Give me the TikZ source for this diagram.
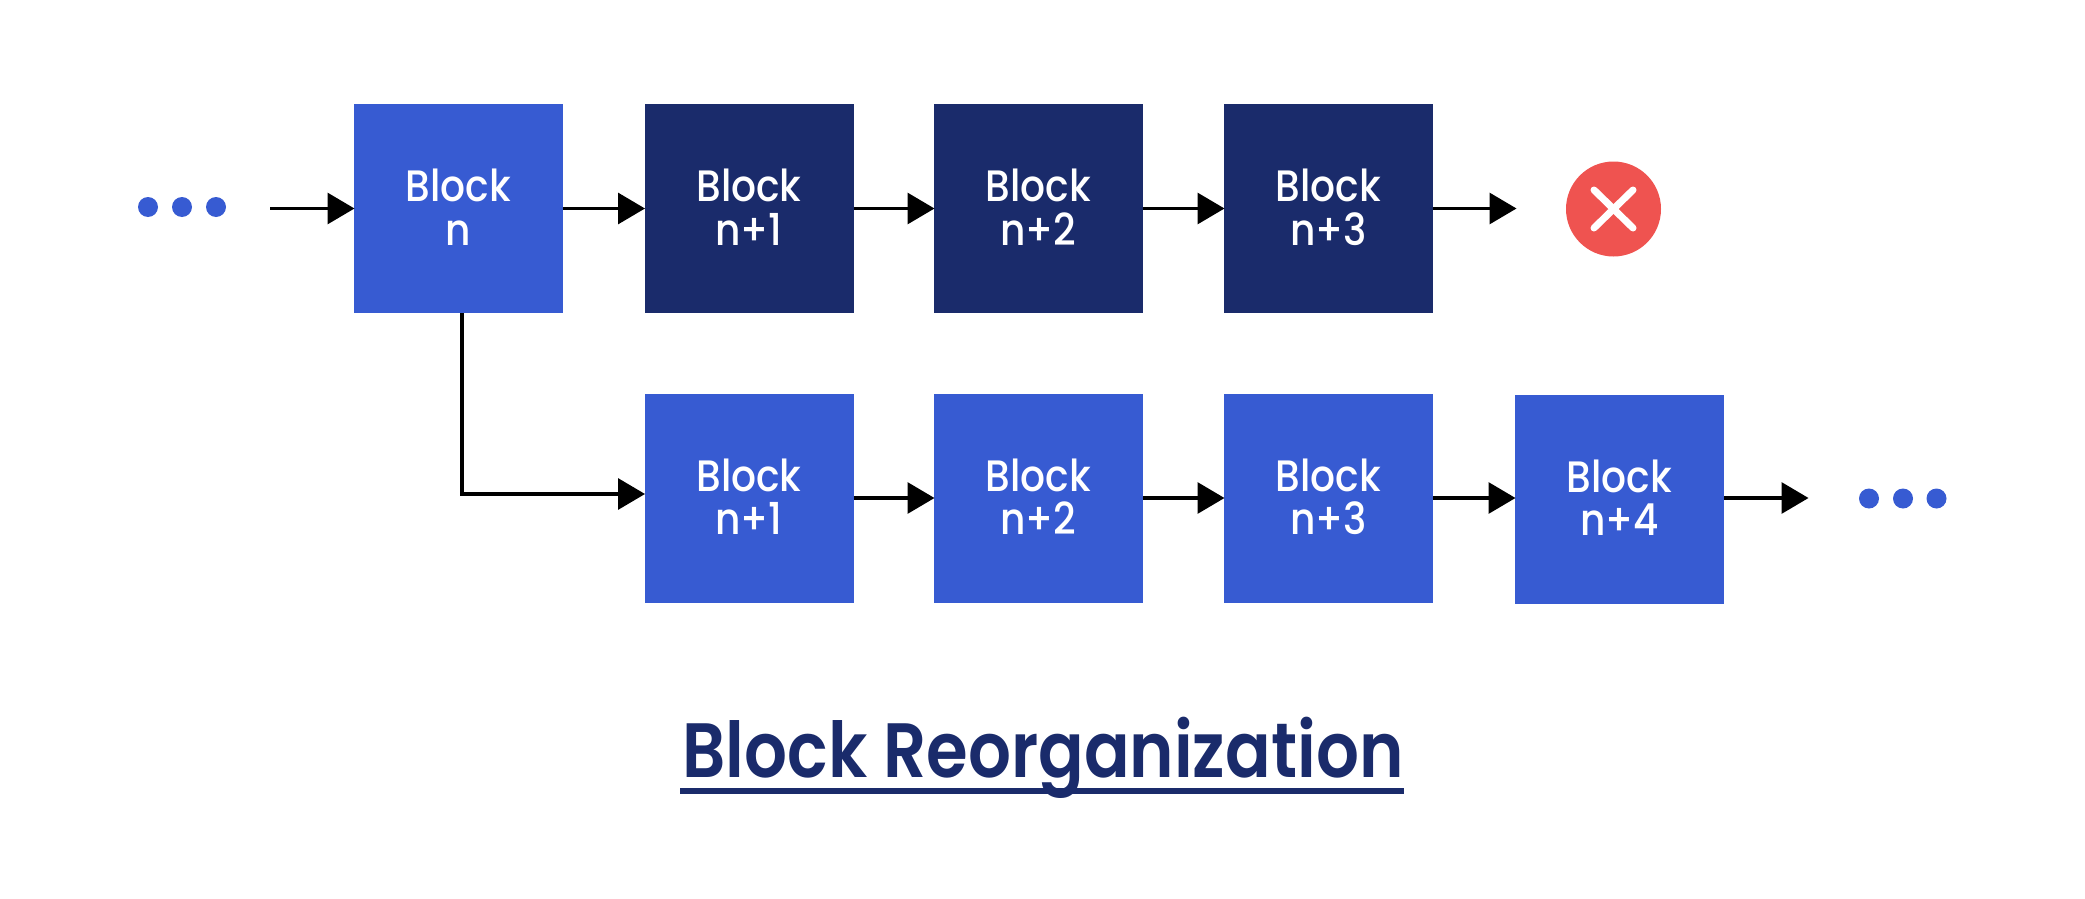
\documentclass[tikz,border=0pt]{standalone}
\usepackage{fontspec}
\setmainfont{Poppins}[UprightFont=* Medium]
\newfontfamily\blockfont{Poppins}[UprightFont=* Medium,FakeStretch=0.89]
\newfontfamily\titlefont{Poppins}[UprightFont=* SemiBold,FakeStretch=0.875]
\usetikzlibrary{arrows.meta,calc}
\definecolor{blk}{HTML}{375BD2}
\definecolor{navy}{HTML}{1A2B6B}
\definecolor{redx}{HTML}{EF5350}
\tikzset{
  x=1pt,y=-1pt,
  blockbox/.style={rectangle,minimum width=209pt,minimum height=209pt,inner sep=0pt,outer sep=0pt,text=white,align=center,text depth=3pt,font=\blockfont\fontsize{44}{43.5}\selectfont},
  bluebox/.style={blockbox,fill=blk},
  navybox/.style={blockbox,fill=navy},
  dotnode/.style={circle,fill=blk,minimum size=20pt,inner sep=0pt,outer sep=0pt},
  arr/.style={draw=black,line width=3.2pt,-{Triangle[length=27pt,width=31pt]},shorten >=-0.5pt},
  crossline/.style={draw=white,line width=7pt,line cap=round}
}
\begin{document}
\begin{tikzpicture}
\useasboundingbox (0,0) rectangle (2085,899);
% top row
\node[bluebox] (bn) at (458.5,208.5) {Block\\n};
\node[navybox] (t1) at (749,208.5) {Block\\n+1};
\node[navybox] (t2) at (1038.5,208.5) {Block\\n+2};
\node[navybox] (t3) at (1328.5,208.5) {Block\\n+3};
% bottom row
\node[bluebox] (c1) at (749,498) {Block\\n+1};
\node[bluebox] (c2) at (1038.5,498) {Block\\n+2};
\node[bluebox] (c3) at (1328.5,498) {Block\\n+3};
\node[bluebox] (c4) at (1619.5,499) {Block\\n+4};
% dots
\node[dotnode] (l1) at (148,207) {};
\node[dotnode] (l2) at (182,207) {};
\node[dotnode] (l3) at (216,207) {};
\node[dotnode] (r1) at (1869,498.5) {};
\node[dotnode] (r2) at (1903,498.5) {};
\node[dotnode] (r3) at (1936.5,498.5) {};
% fail mark
\node[circle,fill=redx,minimum size=95pt,inner sep=0pt] (fail) at (1613.5,209) {};
\draw[crossline] ([shift={(-19.5,-19)}]fail.center) -- ([shift={(19.5,19)}]fail.center);
\draw[crossline] ([shift={(-19.5,19)}]fail.center) -- ([shift={(19.5,-19)}]fail.center);
% free ends
\coordinate (s0) at (270,208.5);
\coordinate (e1) at (1516,208.5);
\coordinate (e2) at (1808,498);
% connectors
\draw[arr] (s0) -- (bn.west);
\draw[arr] (bn.east) -- (t1.west);
\draw[arr] (t1.east) -- (t2.west);
\draw[arr] (t2.east) -- (t3.west);
\draw[arr] (t3.east) -- (e1);
\draw[arr] ([xshift=3.5pt]bn.south) |- ([yshift=4pt]c1.west);
\draw[arr] (c1.east) -- (c2.west);
\draw[arr] (c2.east) -- (c3.west);
\draw[arr] (c3.east) -- (c3.east -| c4.west);
\draw[arr] (c3.east -| c4.east) -- (e2);
% title
\node[text=navy,inner sep=0pt,anchor=base,font=\titlefont\fontsize{77}{80}\selectfont] (title) at (1043,777) {Block Reorganization};
\coordinate (u1) at (680,791);
\coordinate (u2) at (1404,791);
\draw[navy,line width=6pt] (u1) -- (u2);
\end{tikzpicture}
\end{document}
